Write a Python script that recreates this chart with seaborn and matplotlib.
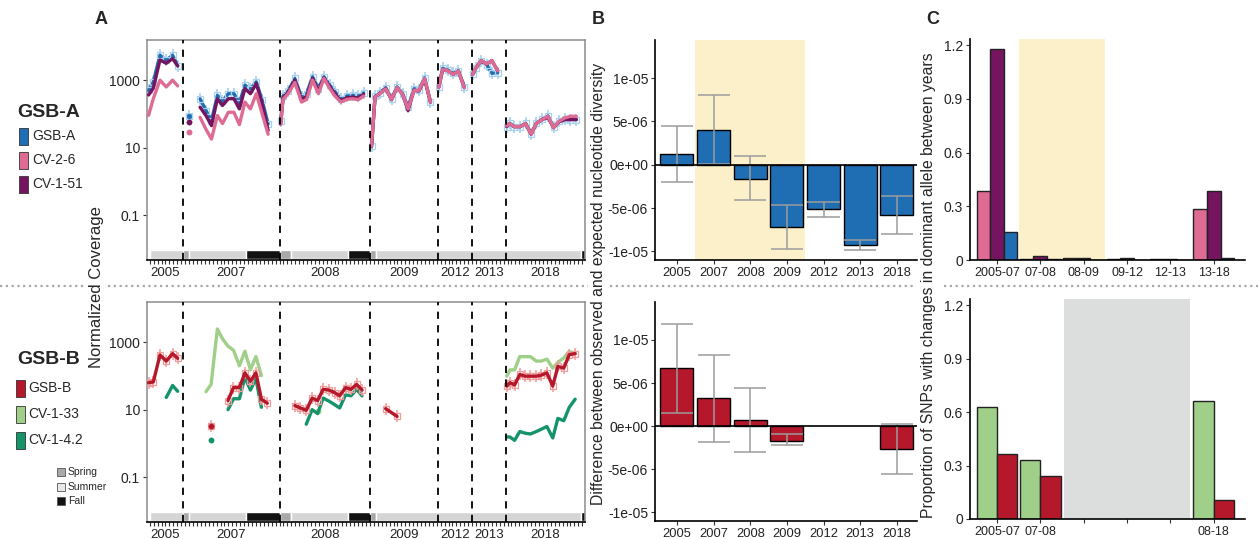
import numpy as np
import pandas as pd
import matplotlib
matplotlib.use("Agg")
import matplotlib.pyplot as plt
import seaborn as sns
from matplotlib.patches import Rectangle
from matplotlib.lines import Line2D
from matplotlib.ticker import NullLocator

# ---------------- data ----------------
N = None
YEARS = ["2005", "2007", "2008", "2009", "2012", "2013", "2018"]
YEAR_BOUNDS = [0.0, 9.2, 33.7, 56.8, 74.0, 82.6, 91.3, 111.4]   # sampling-time axis (sample index units)

SEASON_START = [0.7, 9.2, 10.8, 25.1, 33.7, 36.6, 51.1, 56.8, 58.2, 110.3]
SEASON_END = [9.2, 10.8, 25.1, 33.7, 36.6, 51.1, 56.8, 58.2, 110.3, 111.4]
SEASON_NAME = ["Summer", "Spring", "Summer", "Fall", "Spring", "Summer", "Fall", "Spring", "Summer", "Fall"]

# GSB-A population (top row of panel A)
TOP_TIME = [0.4, 1.6, 3.3, 4.9, 6.5, 7.8,
            10.7, 12.1, 13.5, 15.0, 16.4, 17.9, 19.2, 20.7, 22.1, 23.5, 24.9, 26.3, 27.8, 29.3, 30.8,
            34.0, 34.6, 35.9, 37.6, 39.3, 40.6, 42.1, 43.6, 45.0, 46.5, 47.8, 49.3, 50.8, 52.3, 53.7, 55.1,
            57.1, 58.0, 59.2, 60.7, 62.2, 63.6, 65.0, 66.4, 67.9, 69.2, 70.6, 72.1,
            74.2, 75.2, 76.5, 77.9, 79.2, 80.7,
            82.8, 83.7, 85.0, 86.4, 87.7, 89.2,
            91.5, 92.2, 93.4, 94.9, 96.3, 97.7, 99.0, 100.5, 102.0, 103.4, 104.8, 106.3, 107.7, 109.2]
GSBA_COV = [500, 890, 5500, 3900, 5500, 2700,
            85, N, 280, 126, 63, 355, 240, 400, 400, 210, 710, 560, 890, 250, 50,
            60, 340, 480, 1120, 316, 400, 1260, 560, 1260, 710, 460, 270, 340, 355, 340, 420,
            11, 330, 420, 600, 280, 630, 400, 158, 560, 525, 1175, 224,
            630, 2240, 2000, 1585, 1900, 630,
            1480, 2340, 3630, 2880, 1600, 1660,
            42, 52, 42, 42, 52, 25, 52, 69, 87, 40, 60, 70, 68, 68]
CV151_COV = [363, 575, 3980, 3160, 4365, 2630,
             58, N, 158, 89, 45, 282, 178, 282, 282, 141, 562, 398, 794, 200, 32,
             52, 302, 437, 1000, 263, 331, 1122, 479, 1175, 631, 398, 240, 302, 316, 295, 380,
             10.7, 316, 398, 562, 263, 603, 380, 126, 501, 479, 1047, 224,
             603, 2089, 1905, 1479, 1862, 603,
             1479, 2344, 3802, 3020, 3802, 1905,
             42, 52, 42, 42, 52, 25, 52, 68, 79, 39, 58, 68, 68, 68]
CV26_COV = [91, 282, 1000, 631, 1000, 676,
            30, N, 79, 35, 18, 89, 52, 112, 112, 48, 224, 141, 398, 100, 25,
            48, 269, 398, 851, 224, 269, 1000, 398, 1122, 562, 339, 224, 269, 282, 263, 339,
            11, 316, 398, 550, 269, 603, 380, 141, 501, 501, 1122, 224,
            603, 2089, 1905, 1479, 1862, 603,
            1479, 2344, 3802, 3020, 3802, 1905,
            44, 52, 42, 42, 52, 25, 52, 68, 85, 39, 60, 76, 85, 85]

# GSB-B population (bottom row of panel A)
BOT_TIME = [0.4, 1.6, 3.3, 4.9, 6.5, 7.8,
            15.0, 16.3, 17.9, 19.2, 20.6, 22.0, 23.5, 24.9, 26.3, 27.7, 29.1, 30.6,
            37.6, 39.0, 40.5, 42.0, 43.4, 44.8, 46.3, 47.7, 49.0, 50.5, 51.9, 53.3, 54.7,
            60.7, 63.6,
            91.5, 92.3, 93.5, 94.8, 96.2, 97.5, 99.0, 100.3, 101.7, 103.2, 104.5, 106.0, 107.4, 108.9]
GSBB_COV = [63, 66, 417, 275, 457, 331,
            N, 3.2, N, N, 18.6, 45, 45, 123, 69, 123, 20.4, 15.5,
            13.2, 11.2, 9.5, 21.9, 18.6, 40, 38, 32, 25.7, 45, 40, 56, 38,
            10.7, 6.3,
            50, 63, 54, 110, 98, 98, 98, 105, 123, 50, 191, 170, 427, 457]
CV133_COV = [N, N, N, N, N, N,
             34, 56, 2455, 1259, 759, 575, 200, 537, 151, 372, 102, N,
             N, N, N, N, 8.9, N, N, N, N, N, N, N, N,
             N, N,
             98, 151, 151, 372, 372, 372, 275, 275, 316, 170, 251, 339, 537, 457]
CV142_COV = [N, N, N, 23, 52, 35,
             N, 1.3, N, N, 10, 21, 21, 91, 38, 83, 11.7, N,
             N, N, 3.7, 10, 7.6, 22, 17.8, 14.1, 11.2, 27.5, 25.7, 40, 25.7,
             N, N,
             1.55, 1.55, 1.23, 2.24, 2.0, 1.9, 2.24, 2.63, 3.16, 1.45, 5.5, 4.7, 11.7, 20.4]

# Panel B: observed - expected nucleotide diversity
B_TOP_VAL = [1.27e-6, 4.04e-6, -1.6e-6, -7.2e-6, -5.1e-6, -9.3e-6, -5.8e-6]
B_TOP_LO = [-2.0e-6, 0.1e-6, -4.1e-6, -9.7e-6, -6.0e-6, -9.9e-6, -8.0e-6]
B_TOP_HI = [4.5e-6, 8.0e-6, 0.96e-6, -4.7e-6, -4.3e-6, -8.65e-6, -3.6e-6]
B_BOT_VAL = [6.73e-6, 3.27e-6, 0.69e-6, -1.7e-6, np.nan, np.nan, -2.7e-6]
B_BOT_LO = [1.58e-6, -1.8e-6, -3.0e-6, -2.2e-6, np.nan, np.nan, -5.6e-6]
B_BOT_HI = [11.9e-6, 8.3e-6, 4.4e-6, -0.95e-6, np.nan, np.nan, 0.2e-6]
B_TICKS = [1e-5, 5e-6, 0, -5e-6, -1e-5]
B_TICKLABELS = ["1e-05", "5e-06", "0e+00", "-5e-06", "-1e-05"]

# Panel C: proportion of SNPs with dominant-allele changes
C_TOP_PAIRS = ["2005-07", "07-08", "08-09", "09-12", "12-13", "13-18"]
C_TOP_CV26 = [0.383, 0.005, 0.012, 0.004, 0.005, 0.287]
C_TOP_CV151 = [1.178, 0.024, 0.012, 0.012, 0.003, 0.385]
C_TOP_GSBA = [0.159, 0.005, 0.002, 0.002, 0.002, 0.012]
C_BOT_PAIRS = ["2005-07", "07-08", "08-09", "09-12", "12-13", "08-18"]
C_BOT_LABELS = ["2005-07", "07-08", "", "", "", "08-18"]
C_BOT_CV133 = [0.631, 0.33, np.nan, np.nan, np.nan, 0.663]
C_BOT_GSBB = [0.363, 0.24, np.nan, np.nan, np.nan, 0.104]

# ---------------- style ----------------
BLUE = "#1f6db3"
PINK = "#de6b93"
PURPLE = "#75145f"
RED = "#b5182b"
LGREEN = "#9fcf88"
TEAL = "#15946a"
YELLOW = "#fbf0c9"
SHADE_GREY = "#dcdedd"
SEASON_COL = {"Spring": "#a8a8a8", "Summer": "#d5d5d5", "Fall": "#121212"}

sns.set_theme(style="white")
plt.rcParams["font.family"] = ["Liberation Sans", "DejaVu Sans"]
plt.rcParams["axes.linewidth"] = 1.1

W, H = 1258, 539
fig = plt.figure(figsize=(W / 100, H / 100), dpi=100)


def fx(px):
    return px / W


def fy(py):
    return 1 - py / H


def ax_px(l, t, r, b):
    return fig.add_axes([l / W, 1 - b / H, (r - l) / W, (b - t) / H])


def year_of(t):
    return YEARS[int(np.searchsorted(YEAR_BOUNDS, t)) - 1]


def split_runs(times, vals, name):
    rows, rid, prev_ok, prev_y = [], 0, False, None
    for t, v in zip(times, vals):
        y = year_of(t)
        ok = v is not None and not (isinstance(v, float) and np.isnan(v))
        if ok:
            if not (prev_ok and y == prev_y):
                rid += 1
            rows.append(dict(t=t, v=v, run=f"{name}-{rid}"))
        prev_ok, prev_y = ok, y
    df = pd.DataFrame(rows)
    size = df.groupby("run")["t"].transform("size")
    return df[size > 1], df[size == 1], df


def draw_series(ax, times, vals, name, color, z, lw=2.4):
    lines, pts, alldf = split_runs(times, vals, name)
    sns.lineplot(data=lines, x="t", y="v", units="run", estimator=None, sort=False,
                 color=color, linewidth=lw, ax=ax, zorder=z, legend=False)
    if len(pts):
        sns.scatterplot(data=pts, x="t", y="v", color=color, s=18, linewidth=0,
                        ax=ax, zorder=z, legend=False)
    return alldf


def style_A(ax):
    ax.set_yscale("log")
    ax.set_xlim(YEAR_BOUNDS[0], YEAR_BOUNDS[-1])
    ax.set_ylim(10 ** -2.33, 10 ** 4.19)
    ax.set_yticks([0.1, 10, 1000])
    ax.set_yticklabels(["0.1", "10", "1000"])
    ax.yaxis.set_minor_locator(NullLocator())
    centers = [(a + b) / 2 for a, b in zip(YEAR_BOUNDS[:-1], YEAR_BOUNDS[1:])]
    ax.set_xticks(centers)
    ax.set_xticklabels(YEARS)
    ax.set_xticks(np.arange(0.7, YEAR_BOUNDS[-1], 1.0), minor=True)
    ax.tick_params(axis="x", which="major", length=0, pad=5, labelsize=9.5, labelcolor="#222")
    ax.tick_params(axis="x", which="minor", length=3, width=0.8, color="#333", bottom=True)
    ax.tick_params(axis="y", which="major", length=3, width=0.8, color="#333", left=True,
                   labelsize=10, pad=2, labelcolor="#222")
    for s in ["top", "right", "left"]:
        ax.spines[s].set_color("#8c8c8c")
        ax.spines[s].set_linewidth(1.1)
    ax.spines["bottom"].set_color("black")
    ax.spines["bottom"].set_linewidth(1.2)
    ax.set_xlabel("")
    ax.set_ylabel("")
    # season bar
    ax.broken_barh([(s, e - s) for s, e in zip(SEASON_START, SEASON_END)], (0.0049, 0.0091 - 0.0049),
                   facecolors=[SEASON_COL[n] for n in SEASON_NAME], zorder=1)
    for b in YEAR_BOUNDS[1:-1]:
        ax.axvline(b, color="black", lw=1.3, linestyle=(0, (4, 3.5)), zorder=5)


# ---------------- panel A ----------------
axA1 = ax_px(147, 40, 585, 260)
axA2 = ax_px(147, 302, 585, 522)
axA1.set_yscale("log")
axA2.set_yscale("log")

a_df = draw_series(axA1, TOP_TIME, GSBA_COV, "GSB-A", BLUE, z=3)
axA1.plot(a_df["t"], a_df["v"], ls="none", marker="|", ms=8, mew=1.2, color="#a9d1ee", zorder=2.5)
axA1.plot(a_df["t"], a_df["v"], ls="none", marker="s", ms=3.8, mfc="none", mew=0.9, mec="#a9d1ee", zorder=3.2)
draw_series(axA1, TOP_TIME, CV151_COV, "CV-1-51", PURPLE, z=3.4)
draw_series(axA1, TOP_TIME, CV26_COV, "CV-2-6", PINK, z=3.6)
style_A(axA1)

draw_series(axA2, BOT_TIME, CV133_COV, "CV-1-33", LGREEN, z=3)
draw_series(axA2, BOT_TIME, CV142_COV, "CV-1-4.2", TEAL, z=3.2)
b_df = draw_series(axA2, BOT_TIME, GSBB_COV, "GSB-B", RED, z=3.6)
axA2.plot(b_df["t"], b_df["v"], ls="none", marker="|", ms=9, mew=1.1, color="#f29a9a", zorder=3.4)
axA2.plot(b_df["t"], b_df["v"], ls="none", marker="s", ms=5, mfc="none", mew=0.9, mec="#f29a9a", zorder=3.5)
style_A(axA2)

# ---------------- panel B ----------------
def draw_B(ax, vals, lo, hi, color, shade):
    if shade:
        ax.axvspan(0.5, 3.5, color=YELLOW, zorder=0, lw=0)
    df = pd.DataFrame({"year": YEARS, "val": vals})
    sns.barplot(data=df, x="year", y="val", order=YEARS, color=color, width=0.9, saturation=1,
                edgecolor="black", linewidth=1.0, errorbar=None, ax=ax, zorder=2)
    x = np.arange(len(YEARS))
    lo = np.array(lo, float)
    hi = np.array(hi, float)
    ok = ~np.isnan(lo)
    ax.vlines(x[ok], lo[ok], hi[ok], color="#9c9c9c", lw=1.1, zorder=3)
    ax.hlines(lo[ok], x[ok] - 0.44, x[ok] + 0.44, color="#9c9c9c", lw=1.1, zorder=3)
    ax.hlines(hi[ok], x[ok] - 0.44, x[ok] + 0.44, color="#9c9c9c", lw=1.1, zorder=3)
    ax.axhline(0, color="black", lw=1.2, zorder=4)
    ax.set_xlim(-0.6, 6.55)
    ax.set_ylim(-1.1e-5, 1.44e-5)
    ax.set_yticks(B_TICKS)
    ax.set_yticklabels(B_TICKLABELS)
    sns.despine(ax=ax)
    for s in ["left", "bottom"]:
        ax.spines[s].set_color("black")
        ax.spines[s].set_linewidth(1.2)
    ax.tick_params(axis="both", length=3, width=0.8, color="#333", left=True, bottom=True,
                   labelcolor="#222", pad=2)
    ax.tick_params(axis="y", labelsize=10)
    ax.tick_params(axis="x", labelsize=9.3)
    ax.set_xlabel("")
    ax.set_ylabel("")


axB1 = ax_px(655, 40, 917, 260)
axB2 = ax_px(655, 302, 917, 521)
draw_B(axB1, B_TOP_VAL, B_TOP_LO, B_TOP_HI, BLUE, True)
draw_B(axB2, B_BOT_VAL, B_BOT_LO, B_BOT_HI, RED, False)

# ---------------- panel C ----------------
def draw_C(ax, pairs, labels, series, names, colors, shade):
    ax.axvspan(shade[0], shade[1], color=shade[2], zorder=0, lw=0)
    df = pd.DataFrame({"pair": pairs * len(series),
                       "prop": sum([list(s) for s in series], []),
                       "strain": sum([[n] * len(pairs) for n in names], [])})
    sns.barplot(data=df, x="pair", y="prop", hue="strain", order=pairs, hue_order=names,
                palette=dict(zip(names, colors)), width=0.94, gap=0, saturation=1,
                edgecolor="#222", linewidth=1.0, errorbar=None, legend=False, ax=ax, zorder=2)
    ax.set_xlim(-0.62, 5.72)
    ax.set_ylim(0, 1.235)
    ax.set_yticks([0, 0.3, 0.6, 0.9, 1.2])
    ax.set_yticklabels(["0", "0.3", "0.6", "0.9", "1.2"])
    ax.set_xticks(range(len(pairs)))
    ax.set_xticklabels(labels)
    sns.despine(ax=ax)
    for s in ["left", "bottom"]:
        ax.spines[s].set_color("black")
        ax.spines[s].set_linewidth(1.2)
    ax.tick_params(axis="both", length=3, width=0.8, color="#333", left=True, bottom=True,
                   labelcolor="#222", pad=2, labelsize=10)
    ax.tick_params(axis="x", labelsize=9)
    ax.set_xlabel("")
    ax.set_ylabel("")


axC1 = ax_px(970, 39, 1245, 260)
axC2 = ax_px(970, 299, 1245, 519)
draw_C(axC1, C_TOP_PAIRS, C_TOP_PAIRS, [C_TOP_CV26, C_TOP_CV151, C_TOP_GSBA],
       ["CV-2-6", "CV-1-51", "GSB-A"], [PINK, PURPLE, BLUE], (0.5, 2.5, YELLOW))
draw_C(axC2, C_BOT_PAIRS, C_BOT_LABELS, [C_BOT_CV133, C_BOT_GSBB],
       ["CV-1-33", "GSB-B"], [LGREEN, RED], (1.55, 4.45, SHADE_GREY))

# ---------------- figure annotations ----------------
for txt, x in [("A", 95), ("B", 592), ("C", 926)]:
    fig.text(fx(x), fy(20), txt, fontsize=13, fontweight="bold", ha="left", va="center")

fig.text(fx(97), fy(287), "Normalized Coverage", rotation=90, ha="center", va="center", fontsize=12)
fig.text(fx(598), fy(284), "Difference between observed and expected nucleotide diversity",
         rotation=90, ha="center", va="center", fontsize=11.3)
fig.text(fx(929), fy(285), "Proportion of SNPs with changes in dominant allele between years",
         rotation=90, ha="center", va="center", fontsize=11.3)

for a, b in [(0, 84), (108, 588), (610, 914), (944, 1258)]:
    fig.add_artist(Line2D([fx(a), fx(b)], [fy(286), fy(286)], transform=fig.transFigure,
                          color="#a8a8a8", lw=1.6, linestyle=(0, (1, 1.6))))


def legend_block(title, ty, entries, rx, tx):
    fig.text(fx(17), fy(ty), title, fontsize=14, fontweight="bold", ha="left", va="center")
    for (lab, col), cy in entries:
        fig.add_artist(Rectangle((fx(rx), fy(cy + 8.5)), 9 / W, 17 / H, transform=fig.transFigure,
                                 facecolor=col, edgecolor="#333", lw=0.6))
        fig.text(fx(tx), fy(cy), lab, fontsize=10, ha="left", va="center")


legend_block("GSB-A", 112, [(("GSB-A", BLUE), 136), (("CV-2-6", PINK), 160), (("CV-1-51", PURPLE), 184)], 19, 32)
legend_block("GSB-B", 359, [(("GSB-B", RED), 388), (("CV-1-33", LGREEN), 414), (("CV-1-4.2", TEAL), 440)], 16, 28)

for (lab, col), cy in [(("Spring", "#a8a8a8"), 472), (("Summer", "#e8e8e8"), 487), (("Fall", "#111111"), 501)]:
    fig.add_artist(Rectangle((fx(57), fy(cy + 4)), 8 / W, 8 / H, transform=fig.transFigure,
                             facecolor=col, edgecolor="#555", lw=0.6))
    fig.text(fx(68), fy(cy), lab, fontsize=7.5, ha="left", va="center")

fig.savefig("out.png", dpi=100)
